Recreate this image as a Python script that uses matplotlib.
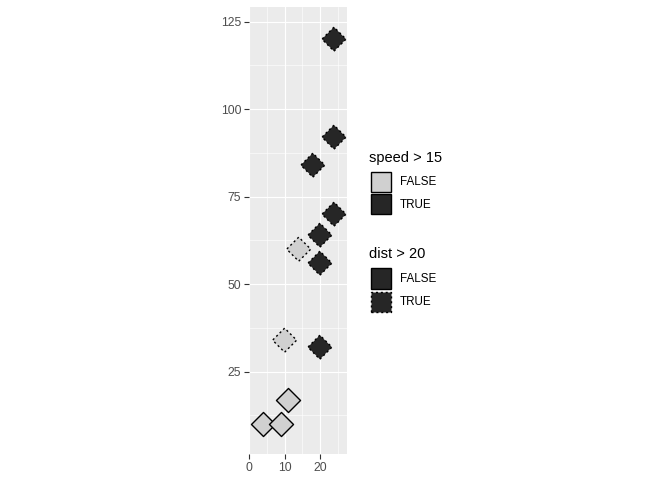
import matplotlib.pyplot as plt
from matplotlib.patches import Rectangle

plt.rcParams['font.family'] = ['Liberation Sans', 'DejaVu Sans']

speed = [4, 9, 11, 10, 14, 20, 20, 20, 24, 18, 24, 24]
dist = [10, 10, 17, 34, 60, 32, 56, 64, 70, 84, 92, 120]
x_ticks = [0, 10, 20]
y_ticks = [25, 50, 75, 100, 125]
legend_titles = ['speed > 15', 'dist > 20']
legend_levels = ['FALSE', 'TRUE']

light = '#D0D0D0'
dark = '#262626'
dotted = (0, (1.5, 2))

W, H = 672, 480
fig = plt.figure(figsize=(W / 100, H / 100), dpi=100)

# panel, placed in pixel terms
left, right, top, bottom = 249.0, 346.7, 7.3, 454.3
ax = fig.add_axes([left / W, 1 - bottom / H, (right - left) / W, (bottom - top) / H])
ax.set_facecolor('#EBEBEB')
ax.set_xlim(-0.1, 27.6)
ax.set_ylim(1.4, 129.1)

ax.set_xticks(x_ticks)
ax.set_yticks(y_ticks)
ax.set_xticks([5, 15, 25], minor=True)
ax.set_yticks([12.5, 37.5, 62.5, 87.5, 112.5], minor=True)
ax.grid(which='major', color='white', linewidth=0.8)
ax.grid(which='minor', color='white', linewidth=0.4)
ax.set_axisbelow(True)
for s in ax.spines.values():
    s.set_visible(False)
ax.tick_params(which='major', length=3.5, width=0.8, color='#333333',
               labelcolor='#4D4D4D', labelsize=8.8, pad=2)
ax.tick_params(which='minor', length=0)

# one scatter per point so each edge gets its own linestyle
for sx, dy in zip(speed, dist):
    fc = dark if sx > 15 else light
    ls = dotted if dy > 20 else 'solid'
    ax.scatter([sx], [dy], s=150, marker='D', facecolor=fc, edgecolor='black',
               linewidth=1.0, linestyle=ls, zorder=3)


def px(x, y):
    return x / W, 1 - y / H


def key(x, y, fc, ls):
    r = Rectangle(px(x, y + 20.5), 20.5 / W, 20.5 / H, transform=fig.transFigure,
                  facecolor=fc, edgecolor='black', linewidth=1.0, linestyle=ls)
    fig.add_artist(r)


# legend: speed > 15
fig.text(*px(369, 158), legend_titles[0], fontsize=10.5, va='center')
key(370.5, 171.5, light, 'solid')
key(370.5, 193.5, dark, 'solid')
fig.text(*px(400, 182.5), legend_levels[0], fontsize=8.4, va='center')
fig.text(*px(400, 204.5), legend_levels[1], fontsize=8.4, va='center')

# legend: dist > 20
fig.text(*px(369, 254.5), legend_titles[1], fontsize=10.5, va='center')
key(370.5, 268, dark, 'solid')
key(370.5, 291.5, dark, dotted)
fig.text(*px(400, 278.5), legend_levels[0], fontsize=8.4, va='center')
fig.text(*px(400, 302), legend_levels[1], fontsize=8.4, va='center')

fig.savefig('out.png', dpi=100)
